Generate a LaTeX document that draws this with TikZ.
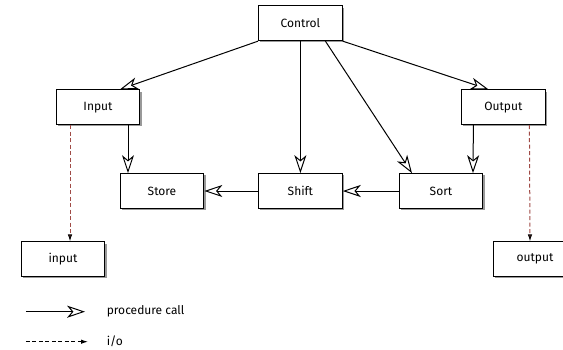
\documentclass[tikz,border=0pt]{standalone}
\usepackage{fontspec}
\setmainfont{Fira Sans}
\usetikzlibrary{arrows.meta,shadows}

\definecolor{iobrown}{RGB}{160,75,70}

\begin{document}
\begin{tikzpicture}[x=1pt,y=1pt,line width=1pt,
		module/.style={draw,fill=white,minimum width=83.7pt,minimum height=34.7pt,
			font=\fontsize{12}{14}\selectfont,
			drop shadow={shadow xshift=1.8pt,shadow yshift=-1.8pt,fill=gray,opacity=0.8}},
		call/.style={-{Stealth[open,fill=white,length=18pt,width=12pt,inset=5pt]}},
		io/.style={dash pattern=on 4pt off 2.5pt,iobrown,-{Latex[black,length=7pt,width=4.5pt]}},
		legendtext/.style={anchor=west,font=\fontsize{12}{14}\selectfont}]

		\clip (0,0) rectangle (563,-349);
		\useasboundingbox (0,0) rectangle (563,-349);

		\node[module] (Control) at (300.4,-23.3) {Control};
		\node[module] (Input) at (98,-107.2) {Input};
		\node[module] (Output) at (503.4,-107.2) {Output};
		\node[module] (Store) at (162,-191) {Store};
		\node[module] (Shift) at (300.4,-191) {Shift};
		\node[module] (Sort) at (441,-191) {Sort};
		\node[module] (inputdev) at (63,-259.3) {input};
		\node[module] (outputdev) at (535,-259.3) {output};

		% procedure calls
		\path[call]
		(Control.south west) edge ([xshift=22pt]Input.north)
		(Control.south) edge (Shift.north)
		([xshift=25pt]Control.south) edge ([xshift=-29pt]Sort.north)
		(Control.south east) edge ([xshift=-15pt]Output.north)
		([xshift=30pt]Input.south) edge ([xshift=-34pt]Store.north)
		([xshift=-30pt]Output.south) edge ([xshift=32pt]Sort.north)
		(Shift.west) edge (Store.east)
		(Sort.west) edge (Shift.east);

		% i/o
		\path[io]
		([xshift=-28pt]Input.south) edge ([xshift=7pt]inputdev.north)
		([xshift=26pt]Output.south) edge ([xshift=-5pt]outputdev.north);

		% legend
		\coordinate (pcA) at (25.9,-311.7);
		\coordinate (pcB) at (85.1,-311.7);
		\coordinate (ioA) at (25.9,-341.7);
		\coordinate (ioB) at (88,-341.7);
		\draw[call] (pcA) -- (pcB);
		\draw[io,black] (ioA) -- (ioB);
		\node[legendtext] (pclabel) at (103,-311.7) {procedure call};
		\node[legendtext] (iolabel) at (103,-341.7) {i/o};
\end{tikzpicture}
\end{document}
